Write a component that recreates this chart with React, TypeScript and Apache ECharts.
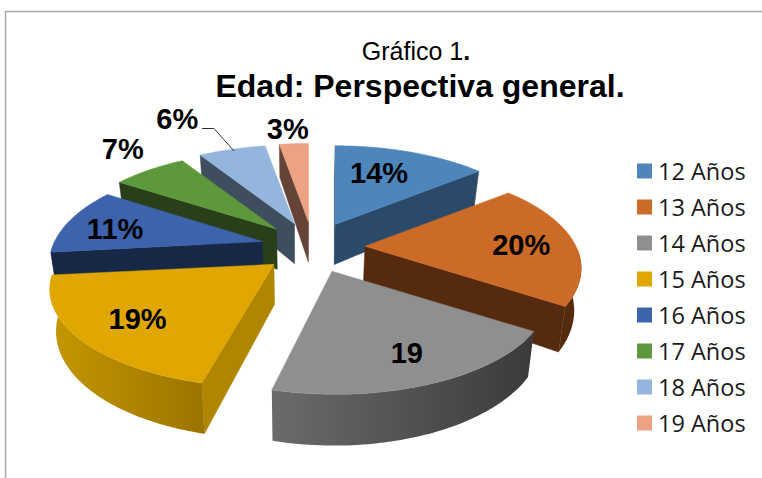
import React, { useEffect, useRef } from "react";
import * as echarts from "echarts";

const categories = ["12 Años", "13 Años", "14 Años", "15 Años", "16 Años", "17 Años", "18 Años", "19 Años"];
const values = [14.1, 20.2, 19.49, 19.49, 10.97, 6.85, 6.2, 2.7];
const labels = ["14%", "20%", "19", "19%", "11%", "7%", "6%", "3%"];
const topColors = ["#4E86BB", "#CC6B27", "#8F8F8F", "#DFA700", "#3C63AC", "#5E983C", "#94B5DC", "#EDA283"];
const faceColors = ["#2B4A69", "#562A0F", "#3A3A3A", "#B08500", "#172846", "#283F1A", "#3F4E5E", "#654437"];
const wallFrom = ["#2B4A69", "#562A0F", "#6B6B6B", "#C69700", "#172846", "#283F1A", "#3F4E5E", "#654437"];
const wallTo = ["#2B4A69", "#562A0F", "#3A3A3A", "#9A7400", "#172846", "#283F1A", "#3F4E5E", "#654437"];
const drawOrder = [0, 1, 7, 6, 5, 4, 3, 2];

// layout of the projected pie
const CX = 313, CY = 247.5, EX = 52, EY = 25.5;
const RX = 211, RY = 96, K = 0.22, DEPTH = 40, WALL_CX = 300, WALL_S = 0.975;
const widthScale = [1, 1, 1, 1.03, 0.985, 1, 1, 1];
const shear = [0, 0, 2.5, -5.5, 0, 0, 0, 0];
const labelNudge = [[-12, 2], [2, 2], [3, -1], [1, 0], [-3, 3], [-59.5, -36], [-71, -50], [-10, -35]];

const total = values.reduce((a, b) => a + b, 0);
const rad = (i: number) => (values.slice(0, i).reduce((a, b) => a + b, 0) / total) * 2 * Math.PI;

function project(t: number, f = 1) {
  const X = Math.sin(t), Y = -Math.cos(t);
  const d = 1 - K * Y;
  return [(RX * X * f) / d, (RY * Y * f) / d, d];
}

function renderSlice(i: number) {
  const a = rad(i), b = rad(i + 1), m = (a + b) / 2;
  const ax = CX + EX * Math.sin(m), ay = CY - EY * Math.cos(m);
  const top = (t: number) => {
    const p = project(t);
    return [ax + p[0] * widthScale[i] + (shear[i] * p[1]) / RY, ay + p[1]];
  };
  const low = (pt: number[], d: number) => [WALL_CX + (pt[0] - WALL_CX) * WALL_S, pt[1] + DEPTH / d];
  const bot = (t: number) => low(top(t), project(t)[2]);
  const apex = [ax, ay];
  const apexLow = low(apex, 1);
  const steps = 60;
  const arc: number[][] = [];
  for (let s = 0; s <= steps; s++) arc.push(top(a + ((b - a) * s) / steps));
  const children: any[] = [];
  const faceStyle = (fill: any) => ({ fill, stroke: fill, lineWidth: 0.5 });
  if (Math.sin(a) < 0.02) children.push({ type: "polygon", shape: { points: [apex, top(a), bot(a), apexLow] }, style: faceStyle(faceColors[i]) });
  if (Math.sin(b) > 0) children.push({ type: "polygon", shape: { points: [apex, top(b), bot(b), apexLow] }, style: faceStyle(faceColors[i]) });
  const wallTop: number[][] = [], wallBot: number[][] = [];
  for (let s = 0; s <= steps; s++) {
    const t = a + ((b - a) * s) / steps;
    if (-Math.cos(t) > 0.02) { wallTop.push(top(t)); wallBot.push(bot(t)); }
  }
  if (wallTop.length > 1) {
    const fill = new echarts.graphic.LinearGradient(0, 0, 1, 0, [
      { offset: 0, color: wallFrom[i] },
      { offset: 1, color: wallTo[i] },
    ]);
    children.push({ type: "polygon", shape: { points: [...wallTop, ...wallBot.reverse()] }, style: { fill } });
  }
  children.push({ type: "polygon", shape: { points: [apex, ...arc] }, style: faceStyle(topColors[i]) });
  const lp = project(m, 0.74);
  children.push({
    type: "text",
    z2: 100,
    style: {
      x: ax + lp[0] + labelNudge[i][0],
      y: ay + lp[1] + labelNudge[i][1],
      text: labels[i],
      fill: "#000",
      font: 'bold 29px "Liberation Sans", Arial, sans-serif',
      align: "center",
      verticalAlign: "middle",
    },
  });
  return { type: "group", children };
}

export default function App() {
  const ref = useRef<HTMLDivElement>(null);
  useEffect(() => {
    const chart = echarts.init(ref.current!, null, { renderer: "svg" });
    chart.setOption({
      animation: false,
      backgroundColor: "#fff",
      title: [
        {
          text: "Gráfico 1{b|.}",
          left: 411, top: 33, textAlign: "center",
          textStyle: {
            fontFamily: "Liberation Sans", fontSize: 25, fontWeight: "normal", color: "#000",
            rich: { b: { fontFamily: "Liberation Sans", fontSize: 25, fontWeight: "bold", color: "#000" } },
          },
        },
        {
          text: "Edad: Perspectiva general.",
          left: 415, top: 65, textAlign: "center",
          textStyle: { fontFamily: "Liberation Sans", fontSize: 32, fontWeight: "bold", color: "#000" },
        },
      ],
      legend: {
        data: categories,
        orient: "vertical",
        left: 637, top: 159,
        icon: "rect",
        itemWidth: 15, itemHeight: 15, itemGap: 12, padding: 0,
        textStyle: { fontFamily: "Open Sans", fontSize: 23.5, color: "#1a1a1a", padding: [0, 0, 0, 1], height: 21, lineHeight: 21 },
        selectedMode: false,
      },
      graphic: [
        { type: "polyline", shape: { points: [[5.5, 478], [5.5, 11.5], [762, 11.5]] }, style: { stroke: "#A8A8A8", lineWidth: 1.5, fill: "none" }, silent: true },
        { type: "polyline", shape: { points: [[202, 128.5], [214, 128.5], [234, 151]] }, style: { stroke: "#333", lineWidth: 1, fill: "none" }, z: 50, silent: true },
      ],
      series: categories.map((name, i) => ({
        type: "custom",
        name,
        coordinateSystem: "none",
        data: [[values[i]]],
        itemStyle: { color: topColors[i] },
        z: 2 + drawOrder.indexOf(i),
        silent: true,
        renderItem: () => renderSlice(i),
      })),
    });
    return () => chart.dispose();
  }, []);
  return <div ref={ref} style={{ position: "absolute", left: 0, top: 0, width: 762, height: 478 }} />;
}
